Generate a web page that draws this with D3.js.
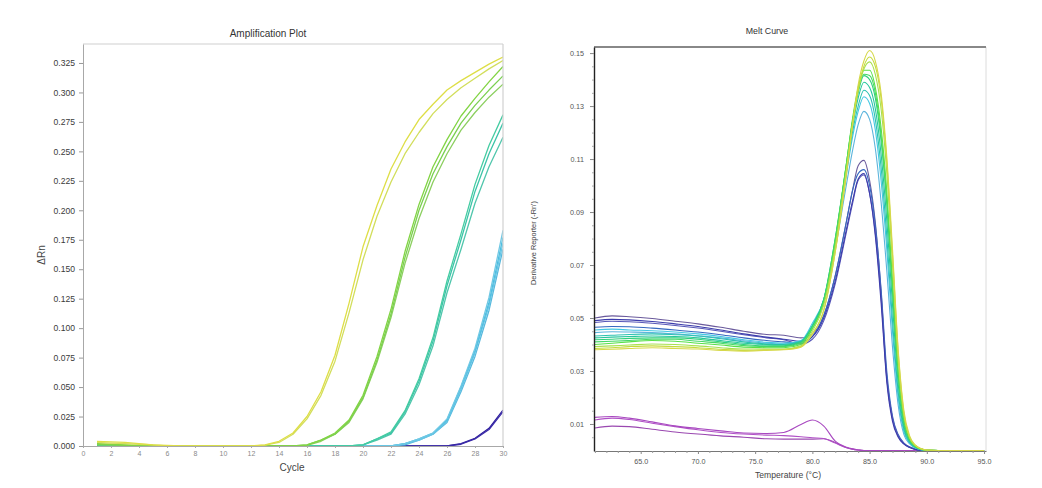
<!DOCTYPE html>
<html><head><meta charset="utf-8">
<script src="https://cdn.jsdelivr.net/npm/d3@7"></script>
<style>
body{margin:0;background:#fff}
text{font-family:"Liberation Sans",Arial,Helvetica,sans-serif}
</style>
</head><body>
<svg id="c" width="1042" height="488"></svg>
<script>
// ---------------- DATA: Amplification Plot ----------------
const cycles = [1,2,3,4,5,6,7,8,9,10,11,12,13,14,15,16,17,18,19,20,21,22,23,24,25,26,27,28,29,30];
const ampYellow1 = [0.004,0.0035,0.003,0.002,0.001,0.0005,0,0,0,0,0,0,0.001,0.004,0.011,0.025,0.046,0.077,0.121,0.169,0.204,0.235,0.258,0.277,0.290,0.302,0.310,0.317,0.324,0.330];
const ampYellow2 = [0.003,0.0025,0.002,0.0015,0.001,0,0,0,0,0,0,0,0.0008,0.003,0.010,0.023,0.043,0.072,0.113,0.158,0.195,0.224,0.248,0.266,0.282,0.294,0.304,0.312,0.320,0.327];
const ampGreen1 = [0.002,0.0015,0.001,0.0005,0,0,0,0,0,0,0,0,0,0,0,0.001,0.005,0.011,0.022,0.043,0.076,0.116,0.165,0.205,0.237,0.260,0.280,0.295,0.309,0.322];
const ampGreen2 = [0.001,0.001,0.0005,0,0,0,0,0,0,0,0,0,0,0,0,0.001,0.005,0.010,0.021,0.041,0.073,0.112,0.160,0.200,0.231,0.254,0.274,0.289,0.302,0.314];
const ampGreen3 = [0.0015,0.001,0.0005,0,0,0,0,0,0,0,0,0,0,0,0,0.0005,0.004,0.010,0.020,0.040,0.071,0.109,0.155,0.193,0.224,0.248,0.268,0.283,0.296,0.307];
const ampTeal1 = [0,0,0,0,0,0,0,0,0,0,0,0,0,0,0,0,0,0,0,0.001,0.006,0.012,0.030,0.057,0.092,0.140,0.180,0.222,0.255,0.281];
const ampTeal2 = [0,0,0,0,0,0,0,0,0,0,0,0,0,0,0,0,0,0,0,0.001,0.006,0.011,0.029,0.055,0.089,0.136,0.175,0.216,0.248,0.274];
const ampTeal3 = [0,0,0,0,0,0,0,0,0,0,0,0,0,0,0,0,0,0,0,0.001,0.005,0.010,0.027,0.052,0.085,0.130,0.167,0.206,0.237,0.262];
const ampSky1 = [0,0,0,0,0,0,0,0,0,0,0,0,0,0,0,0,0,0,0,0,0,0,0.002,0.006,0.011,0.023,0.051,0.083,0.126,0.183];
const ampSky2 = [0,0,0,0,0,0,0,0,0,0,0,0,0,0,0,0,0,0,0,0,0,0,0.002,0.006,0.011,0.022,0.050,0.081,0.122,0.177];
const ampSky3 = [0,0,0,0,0,0,0,0,0,0,0,0,0,0,0,0,0,0,0,0,0,0,0.002,0.005,0.010,0.021,0.048,0.079,0.119,0.172];
const ampSky4 = [0,0,0,0,0,0,0,0,0,0,0,0,0,0,0,0,0,0,0,0,0,0,0.001,0.005,0.010,0.020,0.046,0.076,0.115,0.167];
const ampNavy1 = [0,0,0,0,0,0,0,0,0,0,0,0,0,0,0,0,0,0,0,0,0,0,0,0,0,0,0.002,0.0065,0.015,0.0305];
const ampNavy2 = [0,0,0,0,0,0,0,0,0,0,0,0,0,0,0,0,0,0,0,0,0,0,0,0,0,0,0.0015,0.006,0.014,0.029];
const ampYTicks = [0,0.025,0.05,0.075,0.1,0.125,0.15,0.175,0.2,0.225,0.25,0.275,0.3,0.325];
const ampXTicks = [0,2,4,6,8,10,12,14,16,18,20,22,24,26,28,30];

// ---------------- DATA: Melt Curve ----------------
const meltTemps = [61,62.5,64,66,68,70,72,74,76,77.5,79,80,81,82,83,83.5,84,84.5,85,85.5,86,86.5,87,87.5,88,88.5,89,89.5,90,92,95];
const meltYellowA = [.0380,.0382,.0385,.0388,.0385,.0383,.0378,.0375,.0378,.0380,.0390,.044,.053,.075,.106,.123,.138,.147,.151,.147,.135,.111,.076,.038,.015,.0055,.002,.0007,.0002,0,0];
const meltYellowB = [.0385,.0388,.0392,.0395,.0392,.0388,.0382,.0378,.0380,.0381,.0392,.044,.053,.075,.105,.122,.136,.145,.1485,.145,.133,.109,.074,.037,.014,.005,.002,.0006,.0002,0,0];
const meltLimeC = [.0392,.0395,.0398,.0402,.0400,.0395,.0388,.0383,.0383,.0383,.0395,.045,.055,.077,.107,.123,.136,.144,.1467,.142,.129,.105,.070,.034,.013,.0048,.0018,.0006,.0002,0,0];
const meltGreenD = [.0400,.0405,.0410,.0415,.0412,.0405,.0398,.0390,.0388,.0388,.0400,.046,.056,.079,.109,.125,.137,.1435,.1435,.137,.122,.098,.064,.030,.012,.004,.0015,.0005,.0001,0,0];
const meltGreenE = [.0410,.0412,.0415,.0420,.0420,.0412,.0405,.0396,.0392,.0392,.0405,.046,.056,.079,.109,.124,.136,.1420,.1415,.135,.119,.095,.062,.029,.011,.004,.0015,.0005,.0001,0,0];
const meltGreenF = [.0418,.0420,.0423,.0425,.0425,.0420,.0410,.0400,.0395,.0395,.0408,.047,.057,.080,.109,.124,.135,.1415,.140,.133,.117,.093,.060,.028,.010,.0038,.0014,.0005,.0001,0,0];
const meltTealJ = [.0425,.0428,.0430,.0432,.0430,.0425,.0415,.0405,.0400,.0398,.0410,.047,.057,.080,.108,.122,.133,.139,.137,.129,.112,.087,.055,.025,.009,.0035,.0013,.0004,.0001,0,0];
const meltTealG = [.0432,.0435,.0438,.0440,.0437,.0432,.0422,.0410,.0402,.0400,.0412,.047,.057,.078,.106,.120,.130,.136,.134,.125,.107,.081,.049,.022,.008,.003,.0011,.0003,.0001,0,0];
const meltCyanH = [.0455,.0458,.0455,.0452,.0447,.0440,.0430,.0418,.0408,.0405,.0415,.048,.057,.078,.105,.118,.128,.1335,.131,.121,.102,.076,.045,.020,.007,.0028,.001,.0003,.0001,0,0];
const meltCyanI = [.0445,.0448,.0447,.0445,.0440,.0433,.0425,.0414,.0405,.0402,.0412,.047,.056,.076,.101,.113,.123,.128,.125,.114,.094,.068,.039,.017,.006,.0025,.0009,.0003,.0001,0,0];
const meltBlueK = [.0500,.0508,.0505,.0498,.0488,.0478,.0465,.0450,.0438,.0435,.0425,.044,.051,.066,.087,.098,.1075,.1095,.102,.086,.060,.028,.012,.0055,.0027,.0013,.0005,.0001,0,0,0];
const meltBlueL = [.0490,.0495,.0493,.0487,.0478,.0468,.0455,.0440,.0428,.0420,.0412,.043,.050,.064,.084,.094,.1025,.1045,.097,.081,.056,.026,.011,.005,.0024,.0011,.0004,.0001,0,0,0];
const meltBlueM = [.0483,.0488,.0486,.0480,.0472,.0462,.0450,.0437,.0425,.0418,.0402,.042,.049,.063,.083,.093,.102,.104,.097,.082,.058,.027,.012,.0055,.0026,.0012,.0004,.0001,0,0,0];
const meltBlueN = [.0465,.0468,.0467,.0462,.0455,.0447,.0437,.0425,.0415,.0410,.0405,.043,.051,.066,.087,.098,.1045,.1060,.100,.085,.061,.030,.013,.006,.0028,.0013,.0005,.0001,0,0,0];
const meltMagenta1 = [.0125,.0128,.0122,.0108,.0093,.0083,.0074,.0066,.0064,.0068,.0098,.0115,.0092,.0035,.0012,.0006,.0002,0,0,0,0,0,0,0,0,0,0,0,0,0,0];
const meltMagenta2 = [.0115,.0122,.0117,.0103,.0090,.0078,.0068,.0062,.0058,.0056,.0052,.0048,.0045,.0028,.0010,.0005,.0002,0,0,0,0,0,0,0,0,0,0,0,0,0,0];
const meltMagenta3 = [.0085,.0092,.0090,.0080,.0070,.0062,.0055,.0050,.0044,.0043,.0043,.0043,.0044,.0030,.0010,.0005,.0002,0,0,0,0,0,0,0,0,0,0,0,0,0,0];
const meltYTicks = [0.01,0.03,0.05,0.07,0.09,0.11,0.13,0.15];
const meltYMinor = [0.005,0.015,0.02,0.025,0.035,0.04,0.045,0.055,0.06,0.065,0.075,0.08,0.085,0.095,0.1,0.105,0.115,0.12,0.125,0.135,0.14,0.145];
const meltXTicks = [65,70,75,80,85,90,95];
const meltXMinor = [61,62,63,64,66,67,68,69,71,72,73,74,76,77,78,79,81,82,83,84,86,87,88,89,91,92,93,94];

// ---------------- DRAW ----------------
const svg = d3.select("#c");
svg.append("rect").attr("width",1042).attr("height",488).attr("fill","#fff");

// ===== Amplification plot =====
const A = {l:83, r:503, t:44, b:446};
const ax = d3.scaleLinear().domain([0,30]).range([A.l,A.r]);
const ay = d3.scaleLinear().domain([0,0.3411]).range([A.b,A.t]);
const ga = svg.append("g");
ga.append("defs").append("clipPath").attr("id","clipA").append("rect")
  .attr("x",A.l).attr("y",A.t).attr("width",A.r-A.l).attr("height",A.b-A.t+1);

const ampSeries = [
  [ampNavy1,"#2e1f9c"],[ampNavy2,"#3a2aa8"],
  [ampSky4,"#58b8dc"],[ampSky3,"#68c6e6"],[ampSky2,"#4cbee0"],[ampSky1,"#70c8e4"],
  [ampTeal3,"#50c6ac"],[ampTeal2,"#3cc4a8"],[ampTeal1,"#44cca2"],
  [ampGreen3,"#8ccf60"],[ampGreen2,"#7ad050"],[ampGreen1,"#82d444"],
  [ampYellow2,"#d2de5c"],[ampYellow1,"#dede46"]
];
const aline = d3.line().x((d,i)=>ax(cycles[i])).y(d=>ay(d));
const gA = ga.append("g").attr("clip-path","url(#clipA)");
ampSeries.forEach(([vals,col])=>{
  gA.append("path").attr("d",aline(vals)).attr("fill","none")
    .attr("stroke",col).attr("stroke-width",1.3).attr("stroke-linejoin","round");
});

// frame
ga.append("line").attr("x1",A.l).attr("x2",A.r).attr("y1",A.t).attr("y2",A.t).attr("stroke","#d0d0d0").attr("stroke-width",1.2);
ga.append("line").attr("x1",A.r).attr("x2",A.r).attr("y1",A.t).attr("y2",A.b).attr("stroke","#d0d0d0").attr("stroke-width",1.2);

const ayAxis = ga.append("g").attr("transform",`translate(${A.l},0)`)
  .call(d3.axisLeft(ay).tickValues(ampYTicks).tickFormat(d3.format(".3f")).tickSize(4).tickSizeOuter(0).tickPadding(4));
ayAxis.select(".domain").attr("stroke","#a8a8a8");
ayAxis.selectAll(".tick line").attr("stroke","#999");
ayAxis.selectAll("text").attr("fill","#3a3a3a").style("font-size","8.6px");

const axAxis = ga.append("g").attr("transform",`translate(0,${A.b})`)
  .call(d3.axisBottom(ax).tickValues(ampXTicks).tickFormat(d3.format("d")).tickSize(2).tickSizeOuter(0).tickPadding(3));
axAxis.select(".domain").attr("stroke","#a8a8a8");
axAxis.selectAll(".tick line").attr("stroke","#aaa");
axAxis.selectAll("text").attr("fill","#8a8a8a").style("font-size","7px");

ga.append("text").attr("x",268).attr("y",37).attr("text-anchor","middle")
  .style("font-size","10px").attr("fill","#333").text("Amplification Plot");
ga.append("text").attr("x",292).attr("y",471).attr("text-anchor","middle")
  .style("font-size","10px").attr("fill","#444").text("Cycle");
ga.append("text").attr("transform","translate(45,255) rotate(-90)").attr("text-anchor","middle")
  .style("font-size","10px").attr("fill","#444").text("ΔRn");

// ===== Melt curve =====
const M = {l:594, r:986, t:47, b:451};
const mx = d3.scaleLinear().domain([60.92,95.17]).range([M.l,M.r]);
const my = d3.scaleLinear().domain([-0.0002,0.1523]).range([M.b,M.t]);
const gm = svg.append("g");
gm.append("defs").append("clipPath").attr("id","clipM").append("rect")
  .attr("x",M.l).attr("y",M.t).attr("width",M.r-M.l).attr("height",M.b-M.t);

const meltSeries = [
  [meltMagenta3,"#9a48b0"],[meltMagenta2,"#b050c6"],[meltMagenta1,"#a848c0"],
  [meltBlueK,"#6a5a9c"],[meltBlueN,"#3468c0"],[meltBlueM,"#5858b8"],[meltBlueL,"#3c3cac"],
  [meltCyanI,"#5cb4dc"],[meltCyanH,"#44c8e2"],[meltTealG,"#2cc2b2"],[meltTealJ,"#26c69c"],
  [meltGreenF,"#30d07c"],[meltGreenE,"#46d866"],[meltGreenD,"#58e048"],
  [meltLimeC,"#a8e050"],[meltYellowB,"#c4dc3c"],[meltYellowA,"#d6d84a"]
];
const mline = d3.line().x((d,i)=>mx(meltTemps[i])).y(d=>my(d)).curve(d3.curveMonotoneX);
const gM = gm.append("g").attr("clip-path","url(#clipM)");
meltSeries.forEach(([vals,col])=>{
  gM.append("path").attr("d",mline(vals)).attr("fill","none")
    .attr("stroke",col).attr("stroke-width",1.1);
});

// frame
gm.append("line").attr("x1",M.r).attr("x2",M.r).attr("y1",M.t).attr("y2",M.b).attr("stroke","#dcdcdc").attr("stroke-width",1);
gm.append("line").attr("x1",M.l).attr("x2",M.r).attr("y1",M.t).attr("y2",M.t).attr("stroke","#888").attr("stroke-width",2);

const myAxis = gm.append("g").attr("transform",`translate(${M.l},0)`)
  .call(d3.axisLeft(my).tickValues(meltYTicks).tickFormat(d3.format(".2f")).tickSize(4).tickSizeOuter(0).tickPadding(6));
myAxis.select(".domain").attr("stroke","#222").attr("stroke-width",1.4);
myAxis.selectAll(".tick line").attr("stroke","#888");
myAxis.selectAll("text").attr("fill","#555").style("font-size","7.2px");
const myMinor = gm.append("g").attr("transform",`translate(${M.l},0)`)
  .call(d3.axisLeft(my).tickValues(meltYMinor).tickFormat("").tickSize(2).tickSizeOuter(0));
myMinor.select(".domain").remove();
myMinor.selectAll(".tick line").attr("stroke","#aaa");

const mxAxis = gm.append("g").attr("transform",`translate(0,${M.b})`)
  .call(d3.axisBottom(mx).tickValues(meltXTicks).tickFormat(d3.format(".1f")).tickSize(3).tickSizeOuter(0).tickPadding(5));
mxAxis.select(".domain").attr("stroke","#777").attr("stroke-width",1.2);
mxAxis.selectAll(".tick line").attr("stroke","#888");
mxAxis.selectAll("text").attr("fill","#555").style("font-size","7.2px");
const mxMinor = gm.append("g").attr("transform",`translate(0,${M.b})`)
  .call(d3.axisBottom(mx).tickValues(meltXMinor).tickFormat("").tickSize(2).tickSizeOuter(0));
mxMinor.select(".domain").remove();
mxMinor.selectAll(".tick line").attr("stroke","#999");

gm.append("text").attr("x",767).attr("y",34).attr("text-anchor","middle")
  .style("font-size","8.8px").attr("fill","#333").text("Melt Curve");
gm.append("text").attr("x",788).attr("y",478).attr("text-anchor","middle")
  .style("font-size","8.6px").attr("fill","#444").text("Temperature (°C)");
gm.append("text").attr("transform","translate(536,243) rotate(-90)").attr("text-anchor","middle")
  .style("font-size","7.4px").attr("fill","#444").text("Derivative Reporter (-Rn')");
</script>
</body></html>
